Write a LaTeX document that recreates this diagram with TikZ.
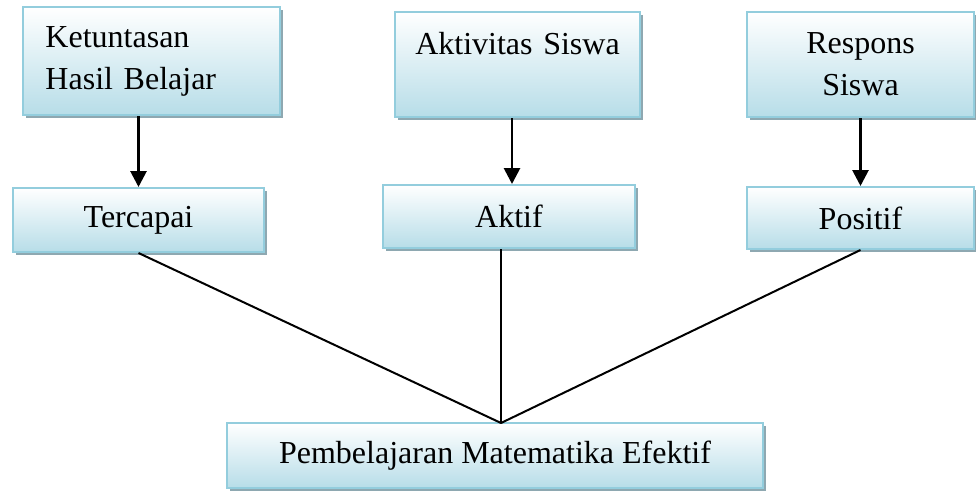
\documentclass[tikz,border=0pt]{standalone}
\usepackage{fontspec}
\setmainfont{Liberation Serif}
\usetikzlibrary{arrows.meta,shadows}

\definecolor{boxline}{HTML}{93CDDD}
\definecolor{boxfill}{HTML}{B7DDE8}
\definecolor{boxshade}{HTML}{8EA8B1}

\tikzset{
    box/.style={draw=boxline, line width=1pt, top color=white, bottom color=boxfill,
        drop shadow={shadow xshift=1.5pt, shadow yshift=-1.5pt, fill=boxshade, opacity=1},
        inner sep=0pt, font=\fontsize{16}{21}\selectfont},
    arr/.style={line width=1.4pt, -{Triangle[length=8pt,width=8pt]}},
    link/.style={line width=1pt}
}

\begin{document}
\begin{tikzpicture}[x=0.5pt, y=-0.5pt]
        \useasboundingbox (0,0) rectangle (976,493);

        \node[box, minimum width=128.5pt, minimum height=54pt, text width=106pt, align=left] (ket) at (151.5,61) {Ketuntasan\\Hasil Belajar};
        \node[box, minimum width=122.5pt, minimum height=52.5pt, text width=110pt, align=center] (akt) at (517.5,64.5) {Aktivitas Siswa\\\mbox{}};
        \node[box, minimum width=113.5pt, minimum height=52.5pt, text width=100pt, align=center] (res) at (860.5,64.5) {Respons\\Siswa};

        \node[box, minimum width=125.5pt, minimum height=32pt] (terc) at (138.5,220) {Tercapai};
        \node[box, minimum width=126pt, minimum height=31.5pt] (aktif) at (509,216.5) {Aktif};
        \node[box, minimum width=113.5pt, minimum height=31pt] (pos) at (860.5,218) {Positif};

        \node[box, minimum width=268pt, minimum height=32.5pt] (pem) at (495,455.5) {Pembelajaran Matematika Efektif};
        \coordinate (meet) at (501,423);

        \draw[arr] (ket.south -| terc) -- (terc.north);
        \draw[arr] ([xshift=-2.75pt]akt.south) -- ([xshift=-2.75pt]akt.south |- aktif.north);
        \draw[arr] (res.south) -- (pos.north);

        \draw[link] (terc.south) -- (meet);
        \draw[link] (aktif.south -| meet) -- (meet);
        \draw[link] (pos.south) -- (meet);
    \end{tikzpicture}
\end{document}
